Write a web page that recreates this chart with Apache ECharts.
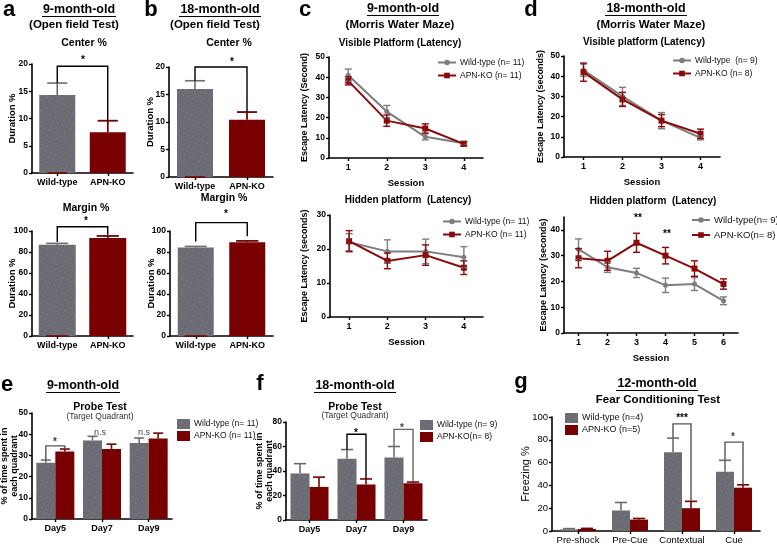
<!DOCTYPE html>
<html><head><meta charset="utf-8">
<script src="https://cdn.jsdelivr.net/npm/echarts@6.0.0/dist/echarts.min.js"></script>
<style>html,body{margin:0;padding:0;background:#fff}#c{width:777px;height:544px}</style>
</head><body><div id="c"></div>
<script>
// ---------- DATA ----------
const openGroups = ['Wild-type', 'APN-KO'];
const aCenter = [14.3, 7.5],   aCenterErr = [2.2, 2.1];
const aMargin = [86.8, 93.3],  aMarginErr = [1.4, 2.0];
const bCenter = [16.0, 10.4],  bCenterErr = [1.5, 1.4];
const bMargin = [84.3, 89.4],  bMarginErr = [1.0, 1.2];

const sessions4 = ['1', '2', '3', '4'];
const sessions6 = ['1', '2', '3', '4', '5', '6'];
const cVisWT = [41.0, 23.0, 10.5, 7.3], cVisWTErr = [3.0, 3.0, 1.5, 1.0];
const cVisKO = [38.2, 18.5, 14.6, 7.0], cVisKOErr = [2.0, 2.8, 2.3, 1.0];
const cHidWT = [22.0, 19.3, 19.3, 17.6], cHidWTErr = [2.5, 3.4, 3.6, 3.1];
const cHidKO = [22.3, 16.5, 18.2, 14.5], cHidKOErr = [3.1, 2.3, 3.0, 2.0];
const dVisWT = [43.0, 30.0, 18.0, 9.5], dVisWTErr = [3.0, 4.5, 4.0, 1.0];
const dVisKO = [42.0, 28.5, 18.0, 11.5], dVisKOErr = [4.5, 3.5, 3.0, 2.3];
const dHidWT = [32.5, 25.5, 23.3, 18.5, 19.0, 12.5], dHidWTErr = [4.0, 2.0, 1.8, 2.8, 2.5, 1.5];
const dHidKO = [29.0, 28.0, 35.0, 30.0, 25.0, 19.0], dHidKOErr = [3.7, 3.7, 3.7, 3.2, 3.0, 2.0];

const days = ['Day5', 'Day7', 'Day9'];
const eWT = [26.5, 37.0, 35.8], eWTErr = [1.3, 2.0, 2.4];
const eKO = [31.8, 33.0, 38.0], eKOErr = [1.2, 2.3, 2.5];
const fWT = [38.0, 50.0, 51.0], fWTErr = [8.0, 7.5, 9.0];
const fKO = [27.0, 29.0, 30.0], fKOErr = [8.0, 4.5, 1.0];
const fearPhases = ['Pre-shock', 'Pre-Cue', 'Contextual', 'Cue'];
const gWT = [1.5, 18.0, 69.0, 52.0], gWTErr = [0.6, 7.0, 12.5, 10.0];
const gKO = [1.8, 10.0, 20.0, 38.0], gKOErr = [0.5, 1.0, 6.0, 2.5];

// significance brackets: [leftCategory, rightCategory, bracketTop, leftEnd, rightEnd]
const aCenterSig = [[0, 1, 19.6, 16.5, 9.6]];
const aMarginSig = [[0, 1, 104, 89.5, 96.5]];
const bCenterSig = [[0, 1, 20.0, 17.5, 11.8]];
const bMarginSig = [[0, 1, 108, 90, 95]];
const eSig = [[0, 0, 34.5, 27.8, 33.0]];
const fSig = [[1, 1, 70, 57.5, 33.5], [2, 2, 74, 60.0, 31.0]];
const gSig = [[2, 2, 94, 81.5, 26.0], [3, 3, 78, 62.0, 40.5]];

const legendText = {
  c1wt: 'Wild-type (n= 11)', c1ko: 'APN-KO (n= 11)',
  c2wt: 'Wild-type (n= 11)', c2ko: 'APN-KO (n= 11)',
  d1wt: 'Wild-type  (n= 9)', d1ko: 'APN-KO (n= 8)',
  d2wt: 'Wild-type(n= 9)', d2ko: 'APN-KO(n= 8)',
  ewt: 'Wild-type (n= 11)', eko: 'APN-KO (n= 11)',
  fwt: 'Wild-type (n= 9)', fko: 'APN-KO(n= 8)',
  gwt: 'Wild-type (n=4)', gko: 'APN-KO (n=5)'
};

// ---------- STYLE ----------
const FONT = '"Liberation Sans", Arial, Helvetica, sans-serif';
const BAR_GRAY = '#6b6b73', BAR_RED = '#780000';
const LINE_GRAY = '#7d7d80', LINE_RED = '#8a0a0a';
const decalDots = {symbol: 'circle', symbolSize: 0.5, color: 'rgba(255,255,255,0.38)', dashArrayX: [2, 3], dashArrayY: [2, 3], rotation: 0.4};
const decalDotsR = {symbol: 'circle', symbolSize: 0.4, color: 'rgba(255,255,255,0.10)', dashArrayX: [2, 3], dashArrayY: [2, 3], rotation: 0.4};

const grids = [
  {left: 32, top: 64, width: 101, height: 109},   // 0 a center
  {left: 32, top: 231, width: 101, height: 105},  // 1 a margin
  {left: 169, top: 67, width: 104, height: 110},  // 2 b center
  {left: 170, top: 231, width: 103, height: 105}, // 3 b margin
  {left: 329, top: 57, width: 154, height: 101},  // 4 c visible
  {left: 330, top: 215, width: 153, height: 102}, // 5 c hidden
  {left: 564, top: 56, width: 156, height: 101},  // 6 d visible
  {left: 564, top: 217, width: 174, height: 116}, // 7 d hidden
  {left: 32, top: 413, width: 140, height: 106},  // 8 e
  {left: 286, top: 422, width: 141, height: 98},  // 9 f
  {left: 552, top: 417, width: 208, height: 114}  // 10 g
].map(g => Object.assign({outerBoundsMode: 'none', containLabel: false}, g));

const axLine = {lineStyle: {color: '#000', width: 1.6}};
const tick = {show: true, length: 3, lineStyle: {color: '#000', width: 1.4}};
function xCat(gi, cats, opt) {
  return Object.assign({
    type: 'category', gridIndex: gi, data: cats, boundaryGap: true, nameMoveOverlap: false,
    axisLine: axLine, axisTick: Object.assign({alignWithLabel: true}, tick),
    axisLabel: {fontFamily: FONT, fontSize: 9, fontWeight: 'bold', color: '#000', margin: 5, interval: 0},
    nameTextStyle: {fontFamily: FONT, fontSize: 9.5, fontWeight: 'bold', color: '#000'}
  }, opt || {});
}
function yVal(gi, max, interval, name, gap, opt) {
  return Object.assign({
    type: 'value', gridIndex: gi, min: 0, max: max, interval: interval,
    name: name, nameLocation: 'middle', nameGap: gap, nameRotate: 90, nameMoveOverlap: false,
    nameTextStyle: {fontFamily: FONT, fontSize: 9.5, fontWeight: 'bold', color: '#000'},
    axisLine: Object.assign({show: true}, axLine), axisTick: tick, splitLine: {show: false},
    axisLabel: {fontFamily: FONT, fontSize: 8.5, fontWeight: 'bold', color: '#000', margin: 4}
  }, opt || {});
}

function barErr(gi, vals, errs, color, offset, cap) {
  return {
    type: 'custom', xAxisIndex: gi, yAxisIndex: gi, z: 4, silent: true, clip: false,
    data: vals.map((v, i) => [i, v, v + errs[i]]), encode: {x: 0, y: [1, 2]},
    renderItem(p, api) {
      const lo = api.coord([api.value(0), api.value(1)]);
      const hi = api.coord([api.value(0), api.value(2)]);
      const x = lo[0] + offset, st = {stroke: color, lineWidth: 1.6};
      return {type: 'group', children: [
        {type: 'line', shape: {x1: x, y1: lo[1], x2: x, y2: hi[1]}, style: st},
        {type: 'line', shape: {x1: x - cap / 2, y1: hi[1], x2: x + cap / 2, y2: hi[1]}, style: st}
      ]};
    }
  };
}
function lineErr(gi, vals, errs, color, cap) {
  return {
    type: 'custom', xAxisIndex: gi, yAxisIndex: gi, z: 5, silent: true, clip: false,
    data: vals.map((v, i) => [i, v - errs[i], v + errs[i]]), encode: {x: 0, y: [1, 2]},
    renderItem(p, api) {
      const lo = api.coord([api.value(0), api.value(1)]);
      const hi = api.coord([api.value(0), api.value(2)]);
      const x = lo[0], st = {stroke: color, lineWidth: 1.4};
      return {type: 'group', children: [
        {type: 'line', shape: {x1: x, y1: lo[1], x2: x, y2: hi[1]}, style: st},
        {type: 'line', shape: {x1: x - cap / 2, y1: lo[1], x2: x + cap / 2, y2: lo[1]}, style: st},
        {type: 'line', shape: {x1: x - cap / 2, y1: hi[1], x2: x + cap / 2, y2: hi[1]}, style: st}
      ]};
    }
  };
}
function bracket(gi, items, offL, offR, color) {
  return {
    type: 'custom', xAxisIndex: gi, yAxisIndex: gi, z: 6, silent: true, clip: false,
    data: items, encode: {x: 0, y: [2, 3, 4]},
    renderItem(p, api) {
      const t1 = api.coord([api.value(0), api.value(2)]);
      const t2 = api.coord([api.value(1), api.value(2)]);
      const l = api.coord([api.value(0), api.value(3)]);
      const r = api.coord([api.value(1), api.value(4)]);
      const x1 = t1[0] + offL, x2 = t2[0] + offR;
      return {type: 'polyline', shape: {points: [[x1, l[1]], [x1, t1[1]], [x2, t2[1]], [x2, r[1]]]},
        style: {stroke: color || '#000', lineWidth: 1.4, fill: null}};
    }
  };
}
function groupBar(gi, vals, colors, width) {
  return {
    type: 'bar', xAxisIndex: gi, yAxisIndex: gi, barWidth: width, z: 2,
    data: vals.map((v, i) => ({value: v, itemStyle: {color: colors[i], decal: i === 0 ? decalDots : decalDotsR}}))
  };
}
function pairBar(gi, name, vals, color, width, decal) {
  return {
    type: 'bar', name: name, xAxisIndex: gi, yAxisIndex: gi, barWidth: width, barGap: '0%', z: 2,
    itemStyle: {color: color, decal: decal}, data: vals
  };
}
function lineSer(gi, name, vals, color, symbol, size) {
  return {
    type: 'line', name: name, xAxisIndex: gi, yAxisIndex: gi, data: vals, z: 3,
    symbol: symbol, symbolSize: size, lineStyle: {color: color, width: 2}, itemStyle: {color: color}
  };
}
function lgd(names, left, top, fs, icon, iw, ih, gap) {
  return {
    data: names.map(n => icon ? {name: n, icon: icon} : {name: n}),
    left: left, top: top, orient: 'vertical', itemGap: gap, itemWidth: iw, itemHeight: ih,
    padding: 0, selectedMode: false, formatter: n => legendText[n],
    textStyle: {fontFamily: FONT, fontSize: fs, color: '#111', padding: [0, 0, 0, -1]}
  };
}

const xAxes = [
  xCat(0, openGroups), xCat(1, openGroups), xCat(2, openGroups), xCat(3, openGroups),
  xCat(4, sessions4, {name: 'Session', nameLocation: 'middle', nameGap: 20}),
  xCat(5, sessions4, {name: 'Session', nameLocation: 'middle', nameGap: 20}),
  xCat(6, sessions4, {name: 'Session', nameLocation: 'middle', nameGap: 20}),
  xCat(7, sessions6, {name: 'Session', nameLocation: 'middle', nameGap: 20}),
  xCat(8, days), xCat(9, days),
  xCat(10, fearPhases, {axisLabel: {fontFamily: FONT, fontSize: 9.5, color: '#000', margin: 4, interval: 0}})
];
const latTS = {fontFamily: FONT, fontSize: 9, fontWeight: 'bold', color: '#000'};
const yAxes = [
  yVal(0, 20, 5, 'Duration %', 15),
  yVal(1, 100, 20, 'Duration %', 15),
  yVal(2, 20, 5, 'Duration %', 14),
  yVal(3, 100, 20, 'Duration %', 14),
  yVal(4, 50, 10, 'Escape Latency (Second)', 20, {nameTextStyle: latTS}),
  yVal(5, 30, 10, 'Escape Latency (seconds)', 21, {nameTextStyle: latTS}),
  yVal(6, 50, 10, 'Escape Latency (seconds)', 19, {nameTextStyle: latTS}),
  yVal(7, 45, 5, 'Escape Latency (seconds)', 16, {
    nameTextStyle: latTS,
    axisTick: Object.assign({customValues: [0, 10, 20, 30, 40]}, tick),
    axisLabel: {fontFamily: FONT, fontSize: 8.5, fontWeight: 'bold', color: '#000', margin: 4, customValues: [0, 10, 20, 30, 40]}
  }),
  yVal(8, 50, 10, '', 0),
  yVal(9, 80, 20, '', 0),
  yVal(10, 100, 20, 'Freezing %', 21, {nameTextStyle: {fontFamily: FONT, fontSize: 11, color: '#000'},
    axisLabel: {fontFamily: FONT, fontSize: 9.5, color: '#000', margin: 4}})
];

const series = [
  groupBar(0, aCenter, [BAR_GRAY, BAR_RED], 36),
  barErr(0, aCenter, aCenterErr, BAR_GRAY, 0, 20), barErr(0, [0, aCenter[1]], [0, aCenterErr[1]], BAR_RED, 0, 20),
  bracket(0, aCenterSig, 0, 0),
  groupBar(1, aMargin, [BAR_GRAY, BAR_RED], 37),
  barErr(1, aMargin, aMarginErr, BAR_GRAY, 0, 22), barErr(1, [0, aMargin[1]], [0, aMarginErr[1]], BAR_RED, 0, 22),
  bracket(1, aMarginSig, 0, 0),
  groupBar(2, bCenter, [BAR_GRAY, BAR_RED], 36),
  barErr(2, bCenter, bCenterErr, BAR_GRAY, 0, 20), barErr(2, [0, bCenter[1]], [0, bCenterErr[1]], BAR_RED, 0, 20),
  bracket(2, bCenterSig, 0, 0),
  groupBar(3, bMargin, [BAR_GRAY, BAR_RED], 36),
  barErr(3, bMargin, bMarginErr, BAR_GRAY, 0, 22), barErr(3, [0, bMargin[1]], [0, bMarginErr[1]], BAR_RED, 0, 22),
  bracket(3, bMarginSig, 0, 0),

  lineSer(4, 'c1wt', cVisWT, LINE_GRAY, 'circle', 5), lineSer(4, 'c1ko', cVisKO, LINE_RED, 'rect', 6),
  lineErr(4, cVisWT, cVisWTErr, LINE_GRAY, 7), lineErr(4, cVisKO, cVisKOErr, LINE_RED, 7),
  lineSer(5, 'c2wt', cHidWT, LINE_GRAY, 'circle', 5), lineSer(5, 'c2ko', cHidKO, LINE_RED, 'rect', 6),
  lineErr(5, cHidWT, cHidWTErr, LINE_GRAY, 7), lineErr(5, cHidKO, cHidKOErr, LINE_RED, 7),
  lineSer(6, 'd1wt', dVisWT, LINE_GRAY, 'circle', 5), lineSer(6, 'd1ko', dVisKO, LINE_RED, 'rect', 6),
  lineErr(6, dVisWT, dVisWTErr, LINE_GRAY, 7), lineErr(6, dVisKO, dVisKOErr, LINE_RED, 7),
  lineSer(7, 'd2wt', dHidWT, LINE_GRAY, 'circle', 5), lineSer(7, 'd2ko', dHidKO, LINE_RED, 'rect', 6),
  lineErr(7, dHidWT, dHidWTErr, LINE_GRAY, 7), lineErr(7, dHidKO, dHidKOErr, LINE_RED, 7),

  pairBar(8, 'ewt', eWT, BAR_GRAY, 19, decalDots), pairBar(8, 'eko', eKO, BAR_RED, 19, decalDotsR),
  barErr(8, eWT, eWTErr, BAR_GRAY, -9.5, 10), barErr(8, eKO, eKOErr, BAR_RED, 9.5, 10),
  bracket(8, eSig, -9.5, 9.5, '#555'),
  pairBar(9, 'fwt', fWT, BAR_GRAY, 19, decalDots), pairBar(9, 'fko', fKO, BAR_RED, 19, decalDotsR),
  barErr(9, fWT, fWTErr, BAR_GRAY, -9.5, 12), barErr(9, fKO, fKOErr, BAR_RED, 9.5, 12),
  bracket(9, fSig.slice(0, 1), -9.5, 9.5, '#000'), bracket(9, fSig.slice(1), -9.5, 9.5, '#666'),
  pairBar(10, 'gwt', gWT, BAR_GRAY, 18, decalDots), pairBar(10, 'gko', gKO, BAR_RED, 18, decalDotsR),
  barErr(10, gWT, gWTErr, BAR_GRAY, -9, 12), barErr(10, gKO, gKOErr, BAR_RED, 9, 12),
  bracket(10, gSig, -9, 9, '#555')
];

// ---------- TEXT ----------
const B = 'bold ';
function txt(t, x, y, size, bold, color, align, rot) {
  return {type: 'text', x: x, y: y, rotation: rot || 0, silent: true, z: 10,
    style: {text: t, font: (bold ? B : '') + size + 'px ' + FONT, fill: color || '#000', lineHeight: 10,
      align: align || 'center', verticalAlign: 'middle', textAlign: align || 'center', textVerticalAlign: 'middle'}};
}
function uline(x1, x2, y) {
  return {type: 'line', silent: true, z: 10, shape: {x1: x1, y1: y, x2: x2, y2: y}, style: {stroke: '#000', lineWidth: 1.2}};
}
const graphics = [
  txt('a', 9, 10, 22, true), txt('b', 151, 10, 22, true), txt('c', 305, 10, 22, true), txt('d', 531, 10, 22, true),
  txt('e', 7, 385, 22, true), txt('f', 260, 384, 22, true), txt('g', 521, 382, 22, true),
  txt('9-month-old', 79, 10, 12.5, true), uline(42, 116, 16.5),
  txt('18-month-old', 220, 10, 12.5, true), uline(179, 261, 16.5),
  txt('9-month-old', 403, 9, 12.5, true), uline(367, 439, 15.5),
  txt('18-month-old', 646, 9, 12.5, true), uline(605, 687, 15.5),
  txt('9-month-old', 83, 386, 12.5, true), uline(46, 120, 392.5),
  txt('18-month-old', 355, 386, 12.5, true), uline(314, 396, 392.5),
  txt('12-month-old', 657, 384, 12.5, true), uline(616, 698, 390.5),
  txt('(Open field Test)', 74, 25, 11.5, true), txt('(Open field Test)', 215, 25, 11.5, true),
  txt('(Morris Water Maze)', 400, 24.5, 11.5, true), txt('(Morris Water Maze)', 651, 24.5, 11.5, true),
  txt('Fear Conditioning Test', 658, 400, 11.5, true),
  txt('Center %', 84, 43, 10.5, true), txt('Center %', 229, 43, 10.5, true),
  txt('Margin %', 86, 208, 10.5, true), txt('Margin %', 224, 198, 10.5, true),
  txt('Visible Platform (Latency)', 400, 43, 10, true), txt('Hidden platform  (Latency)', 408, 200, 10, true),
  txt('Visible platform (Latency)', 644, 42, 10, true), txt('Hidden platform  (Latency)', 653, 201, 10, true),
  txt('Probe Test', 100, 407, 10.5, true), txt('(Target Quadrant)', 100, 417, 8.5, false, '#333'),
  txt('Probe Test', 355, 407, 10.5, true), txt('(Target Quadrant)', 355, 416, 8.5, false, '#333'),
  txt('% of time spent in\neach quadrant', 10, 466, 9, true, '#000', 'center', Math.PI / 2),
  txt('% of time spent in\neach quadrant', 265, 471, 9, true, '#000', 'center', Math.PI / 2),
  txt('*', 83, 60, 10, true), txt('*', 232, 62, 10, true), txt('*', 86, 221, 10, true), txt('*', 226, 214, 10, true),
  txt('**', 638, 218, 10, true), txt('**', 667, 234, 10, true),
  txt('*', 55, 442, 10, true, '#333'), txt('n.s', 100, 433, 9, false, '#444'), txt('n.s', 144, 433, 9, false, '#444'),
  txt('*', 356, 433, 10, true), txt('*', 402, 428, 10, true, '#444'),
  txt('***', 682, 418, 10, true), txt('*', 733, 437, 10, true, '#444')
];

const chart = echarts.init(document.getElementById('c'), null, {renderer: 'canvas'});
chart.setOption({
  backgroundColor: '#fff', animation: false,
  textStyle: {fontFamily: FONT},
  grid: grids, xAxis: xAxes, yAxis: yAxes, series: series,
  legend: [
    lgd(['c1wt', 'c1ko'], 437, 58, 8.5, null, 18, 7, 4),
    lgd(['c2wt', 'c2ko'], 442, 217, 8.5, null, 18, 7, 4),
    lgd(['d1wt', 'd1ko'], 672, 56, 8.5, null, 18, 7, 4),
    lgd(['d2wt', 'd2ko'], 691, 215, 9.5, null, 18, 7, 5),
    lgd(['ewt', 'eko'], 177, 419, 8.5, 'rect', 13, 10, 2),
    lgd(['fwt', 'fko'], 420, 420, 8.5, 'rect', 13, 10, 2),
    lgd(['gwt', 'gko'], 565, 413, 9, 'rect', 13, 10, 2)
  ],
  graphic: graphics
});
</script></body></html>
